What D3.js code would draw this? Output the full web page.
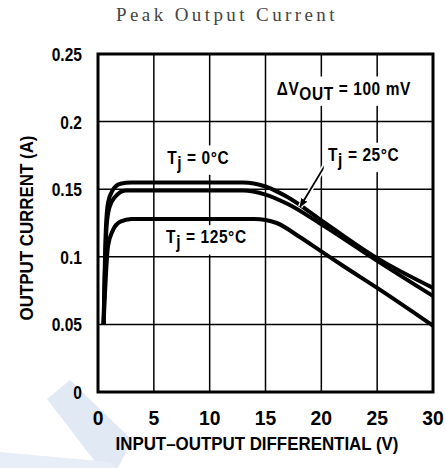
<!DOCTYPE html>
<html>
<head>
<meta charset="utf-8">
<script src="https://cdn.jsdelivr.net/npm/d3@7"></script>
<style>
  body { margin: 0; background: #fff; }
  svg { display: block; }
</style>
</head>
<body>
<div id="chart"></div>
<script>
// series: [input-output differential (V), output current (A)]
var tj0 = [[0.5,0.05],[0.7,0.12],[0.9,0.14],[1.3,0.149],[2,0.154],[3,0.155],[13,0.155],[15,0.152],[17,0.144],[20,0.127],[25,0.099],[30,0.077]];
var tj25 = [[0.5,0.05],[0.75,0.12],[1,0.136],[1.5,0.144],[2.5,0.149],[13,0.149],[15,0.146],[17,0.139],[20,0.124],[25,0.097],[30,0.071]];
var tj125 = [[0.5,0.05],[0.9,0.108],[1.3,0.119],[2,0.126],[3,0.128],[14,0.128],[16,0.125],[18,0.115],[20,0.104],[22,0.093],[25,0.077],[30,0.049]];

var xTicks = [0, 5, 10, 15, 20, 25, 30];
var yTicks = [0, 0.05, 0.1, 0.15, 0.2, 0.25];
var yTickLabels = ["0", "0.05", "0.1", "0.15", "0.2", "0.25"];

var W = 446, H = 468;
var sans = "'Liberation Sans', Arial, sans-serif";

var svg = d3.select("#chart").append("svg")
    .attr("width", W)
    .attr("height", H);

// faint watermark bands at bottom left
svg.append("path")
    .attr("d", "M47,399 L70,380 L132,440 L118,468 L100,468 Z")
    .attr("fill", "#e1e9f5");
svg.append("path")
    .attr("d", "M0,452 L110,462 L118,468 L0,468 Z")
    .attr("fill", "#e8eef7");

var x = d3.scaleLinear().domain([0, 30]).range([98, 433]);
var y = d3.scaleLinear().domain([0, 0.25]).range([392, 54]);

// title
svg.append("text")
    .attr("x", 227)
    .attr("y", 21)
    .attr("text-anchor", "middle")
    .attr("font-family", "'Liberation Serif', 'DejaVu Serif', serif")
    .attr("font-size", 19)
    .attr("letter-spacing", 3.4)
    .attr("fill", "#444")
    .text("Peak Output Current");

// grid
svg.append("g").selectAll("line")
    .data(xTicks.slice(1, -1))
  .enter().append("line")
    .attr("x1", function(d) {return x(d);})
    .attr("x2", function(d) {return x(d);})
    .attr("y1", y(0))
    .attr("y2", y(0.25))
    .attr("stroke", "#000")
    .attr("stroke-width", 1.5);
svg.append("g").selectAll("line")
    .data(yTicks.slice(1, -1))
  .enter().append("line")
    .attr("x1", x(0))
    .attr("x2", x(30))
    .attr("y1", function(d) {return y(d);})
    .attr("y2", function(d) {return y(d);})
    .attr("stroke", "#000")
    .attr("stroke-width", 1.5);

// curves
var line = d3.line()
    .x(function(d) {return x(d[0]);})
    .y(function(d) {return y(d[1]);})
    .curve(d3.curveMonotoneX);

svg.selectAll(".curve")
    .data([tj0, tj25, tj125])
  .enter().append("path")
    .attr("class", "curve")
    .attr("fill", "none")
    .attr("stroke", "#000")
    .attr("stroke-width", 4)
    .attr("stroke-linejoin", "round")
    .attr("d", line);

// arrow to the 25 C curve
svg.append("defs").append("marker")
    .attr("id", "head")
    .attr("viewBox", "0 0 10 10")
    .attr("refX", 9)
    .attr("refY", 5)
    .attr("markerWidth", 5)
    .attr("markerHeight", 5)
    .attr("markerUnits", "strokeWidth")
    .attr("orient", "auto")
  .append("path")
    .attr("d", "M0,1 L10,5 L0,9 Z")
    .attr("fill", "#000");
svg.append("line")
    .attr("x1", x(20.5)).attr("y1", y(0.170))
    .attr("x2", x(18.1)).attr("y2", y(0.137))
    .attr("stroke", "#fff")
    .attr("stroke-width", 5);
svg.append("line")
    .attr("x1", x(20.5)).attr("y1", y(0.170))
    .attr("x2", x(18.1)).attr("y2", y(0.137))
    .attr("stroke", "#000")
    .attr("stroke-width", 1.8)
    .attr("marker-end", "url(#head)");

// condensed bold text: squeeze horizontally around the anchor point
function tall(parent, px, py, size, anchor, sx) {
    return parent.append("text")
        .attr("transform", "translate(" + px + "," + py + ")scale(" + sx + ",1)")
        .attr("text-anchor", anchor)
        .attr("font-family", sans)
        .attr("font-weight", "bold")
        .attr("font-size", size);
}

// labels with white boxes
function label(px, py, main, sub, rest) {
    var sx = 0.86;
    var g = svg.append("g");
    var t = tall(g, px, py, 18, "start", sx)
        .attr("letter-spacing", 0.7);
    t.append("tspan").text(main);
    t.append("tspan").attr("dy", 5).text(sub);
    t.append("tspan").attr("dy", -5).text(rest);
    var b = t.node().getBBox();
    g.insert("rect", "text")
        .attr("x", px + (b.x - 5) * sx)
        .attr("y", py + b.y - 2)
        .attr("width", (b.width + 10) * sx)
        .attr("height", b.height + 4)
        .attr("fill", "#fff");
}
label(x(6.2), y(0.169), "T", "j", " = 0\u00b0C");
label(x(20.6), y(0.171), "T", "j", " = 25\u00b0C");
label(x(6.1), y(0.110), "T", "j", " = 125\u00b0C");
label(x(16.0), y(0.220), "\u0394V", "OUT", " = 100 mV");

// border
svg.append("rect")
    .attr("x", x(0))
    .attr("y", y(0.25))
    .attr("width", x(30) - x(0))
    .attr("height", y(0) - y(0.25))
    .attr("fill", "none")
    .attr("stroke", "#000")
    .attr("stroke-width", 3);

// tick labels
yTicks.forEach(function(d, i) {
    tall(svg, 82, y(d) + 7, 19, "end", 0.82).text(yTickLabels[i]);
});
xTicks.forEach(function(d) {
    tall(svg, x(d), 425, 21, "middle", 0.92).text(d);
});

// axis titles
svg.append("text")
    .attr("transform", "translate(33,228)rotate(-90)")
    .attr("text-anchor", "middle")
    .attr("font-family", sans)
    .attr("font-weight", "bold")
    .attr("font-size", 18)
    .attr("textLength", 185)
    .attr("lengthAdjust", "spacingAndGlyphs")
    .text("OUTPUT CURRENT (A)");
svg.append("text")
    .attr("x", 257)
    .attr("y", 450)
    .attr("text-anchor", "middle")
    .attr("font-family", sans)
    .attr("font-weight", "bold")
    .attr("font-size", 18)
    .attr("textLength", 283)
    .attr("lengthAdjust", "spacingAndGlyphs")
    .text("INPUT\u2013OUTPUT DIFFERENTIAL (V)");
</script>
</body>
</html>
